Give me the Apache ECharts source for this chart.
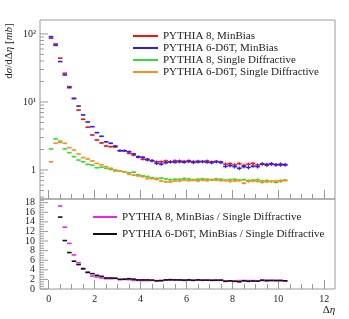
<!DOCTYPE html>
<html><head><meta charset="utf-8">
<script src="https://cdn.jsdelivr.net/npm/echarts@6/dist/echarts.min.js"></script>
<style>html,body{margin:0;padding:0;background:#fff}#c{width:349px;height:319px}</style>
</head><body><div id="c"></div>
<script>
// ---- data ----
const binWidth = 0.2;
const binCenters = [0.1,0.3,0.5,0.7,0.9,1.1,1.3,1.5,1.7,1.9,2.1,2.3,2.5,2.7,2.9,3.1,3.3,3.5,3.7,3.9,4.1,4.3,4.5,4.7,4.9,5.1,5.3,5.5,5.7,5.9,6.1,6.3,6.5,6.7,6.9,7.1,7.3,7.5,7.7,7.9,8.1,8.3,8.5,8.7,8.9,9.1,9.3,9.5,9.7,9.9,10.1,10.3];
const mbPythia8 = [86.5,71,44,26.4,16.8,11.3,7.6,5.57,4.25,3.27,2.76,2.5,2.25,2.2,2.18,1.93,1.92,1.76,1.66,1.54,1.44,1.40,1.37,1.32,1.32,1.36,1.32,1.37,1.36,1.34,1.37,1.33,1.35,1.33,1.36,1.32,1.34,1.31,1.22,1.24,1.19,1.24,1.17,1.22,1.25,1.19,1.22,1.17,1.21,1.19,1.18,1.20];
const mbPythia6 = [91,68,39.2,24.9,16.2,11.2,8.7,6.44,5.08,4.33,3.54,3.13,2.6,2.47,2.25,1.92,1.92,1.86,1.72,1.57,1.54,1.44,1.37,1.25,1.22,1.28,1.32,1.30,1.32,1.30,1.33,1.29,1.31,1.33,1.30,1.28,1.32,1.29,1.13,1.16,1.12,1.06,1.12,1.09,1.14,1.12,1.23,1.21,1.24,1.20,1.22,1.19];
const sdPythia8 = [2.04,2.86,2.55,2.04,1.80,1.57,1.40,1.32,1.21,1.18,1.08,1.10,1.06,1.02,0.97,0.97,0.94,0.91,0.93,0.85,0.82,0.80,0.77,0.75,0.76,0.74,0.72,0.73,0.73,0.75,0.74,0.72,0.73,0.74,0.73,0.72,0.74,0.73,0.71,0.72,0.73,0.71,0.72,0.70,0.71,0.72,0.69,0.70,0.68,0.66,0.70,0.71];
const sdPythia6 = [1.32,2.47,2.67,2.47,2.13,1.97,1.72,1.52,1.45,1.36,1.25,1.19,1.12,1.06,1.00,0.97,0.94,0.87,0.84,0.82,0.80,0.75,0.75,0.73,0.69,0.67,0.67,0.69,0.69,0.71,0.70,0.71,0.69,0.71,0.70,0.72,0.71,0.70,0.70,0.68,0.69,0.70,0.64,0.68,0.69,0.68,0.66,0.67,0.68,0.69,0.68,0.70];
const errMinBias = [0.9,0.8,0.5,0.3,0.2,0.15,0.12,0.1,0.08,0.07,0.07,0.07,0.07,0.07,0.07,0.07,0.07,0.07,0.07,0.07,0.07,0.07,0.07,0.07,0.07,0.07,0.07,0.07,0.07,0.07,0.07,0.07,0.07,0.07,0.07,0.07,0.07,0.07,0.07,0.07,0.07,0.07,0.07,0.07,0.07,0.07,0.07,0.07,0.07,0.07,0.07,0.07];
const errSingleDiff = [0.03,0.03,0.03,0.03,0.03,0.03,0.03,0.03,0.03,0.03,0.03,0.03,0.03,0.03,0.03,0.03,0.03,0.03,0.03,0.03,0.03,0.03,0.03,0.03,0.03,0.03,0.03,0.03,0.03,0.03,0.03,0.03,0.03,0.03,0.03,0.03,0.03,0.03,0.03,0.03,0.03,0.03,0.03,0.03,0.03,0.03,0.03,0.03,0.03,0.03,0.03,0.03];
const ratioPythia8 = [null,null,17.3,12.9,9.5,7.1,5.5,4.3,3.4,2.7,2.5,2.3,2.15,2.15,2.2,2.0,2.0,1.95,1.8,1.8,1.75,1.75,1.8,1.75,1.75,1.85,1.85,1.9,1.85,1.8,1.85,1.85,1.85,1.8,1.85,1.85,1.8,1.8,1.7,1.7,1.65,1.75,1.65,1.75,1.75,1.65,1.75,1.65,1.75,1.8,1.7,1.7];
const ratioPythia6 = [null,null,15.0,10.1,7.6,5.8,5.1,4.2,3.5,3.2,2.85,2.65,2.3,2.3,2.25,2.0,2.05,2.15,2.05,1.9,1.9,1.9,1.85,1.7,1.75,1.9,1.95,1.9,1.9,1.85,1.9,1.8,1.9,1.85,1.85,1.8,1.85,1.85,1.6,1.7,1.6,1.5,1.75,1.6,1.65,1.65,1.85,1.8,1.8,1.75,1.8,1.7];
const xMajorTicks = [0,2,4,6,8,10,12];
const xMinorTicks = [0.5,1,1.5,2.5,3,3.5,4.5,5,5.5,6.5,7,7.5,8.5,9,9.5,10.5,11,11.5,12.5];
const logMajorTicks = [1,10,100];
const logMajorLabels = ['1','10¹','10²'];
const logMinorTicks = [0.4,0.5,0.6,0.7,0.8,0.9,2,3,4,5,6,7,8,9,20,30,40,50,60,70,80,90];
const ratioMajorTicks = [0,2,4,6,8,10,12,14,16,18];
const ratioMajorLabels = ['0','2','4','6','8','10','12','14','16','18'];
const ratioMinorTicks = [0.5,1,1.5,2.5,3,3.5,4.5,5,5.5,6.5,7,7.5,8.5,9,9.5,10.5,11,11.5,12.5,13,13.5,14.5,15,15.5,16.5,17,17.5,18.5];
const seriesNames = ['PYTHIA 8, MinBias','PYTHIA 6-D6T, MinBias','PYTHIA 8, Single Diffractive','PYTHIA 6-D6T, Single Diffractive'];
const ratioNames = ['PYTHIA 8, MinBias / Single Diffractive','PYTHIA 6-D6T, MinBias / Single Diffractive'];

// ---- chart ----
const FONT = 'Liberation Serif';
const AX = '#9a9a9a';
const TXT = '#222';
function rows(vals, errs){ return binCenters.map((x,i)=>[x, vals[i]==null?NaN:vals[i], errs?errs[i]:0]); }
function errRender(color){
  return function(params, api){
    const x = api.value(0), y = api.value(1), e = api.value(2);
    if (isNaN(y)) return null;
    const pL = api.coord([x - binWidth/2, y]);
    const pR = api.coord([x + binWidth/2, y]);
    const children = [{type:'line', shape:{x1:pL[0],y1:pL[1],x2:pR[0],y2:pR[1]}, style:{stroke:color,lineWidth:1.6}}];
    if (e > 0) {
      const pT = api.coord([x, y + e]);
      const pB = api.coord([x, Math.max(y - e, 1e-6)]);
      children.push({type:'line', shape:{x1:pT[0],y1:pT[1],x2:pB[0],y2:pB[1]}, style:{stroke:color,lineWidth:1}});
    }
    return {type:'group', children};
  };
}
function dataSeries(name, vals, errs, color, xi, yi){
  return {type:'custom', name, xAxisIndex:xi, yAxisIndex:yi, clip:true,
    itemStyle:{color}, renderItem: errRender(color), data: rows(vals, errs), encode:{x:0,y:1}, z:5};
}
const colors = ['#ff1010','#2020ff','#33dd33','#ff8c1a'];
const ratioColors = ['#ee22ee','#111111'];

function xAxisDef(grid, ticks, len, labels){
  return {type:'value', gridIndex:grid, min:-0.38, max:12.47, position:'bottom',
    axisLine:{show:false}, splitLine:{show:false},
    axisTick:{show:true, inside:true, length:len, customValues:ticks, lineStyle:{color:AX}},
    axisLabel: labels ? {show:true, customValues:xMajorTicks, margin:5, showMinLabel:true, showMaxLabel:true, hideOverlap:false,
      fontFamily:FONT, fontSize:10, color:TXT} : {show:false}};
}

// y ticks and labels drawn through the y axis' own coordinate mapping
function yTickSeries(xi, yi, values, len, labels, margin){
  return {type:'custom', xAxisIndex:xi, yAxisIndex:yi, silent:true, clip:false, z:6,
    data: values.map((v,i)=>[0, v, i]), encode:{x:0,y:1},
    renderItem:function(params, api){
      const y = api.coord([0, api.value(1)])[1];
      const x0 = params.coordSys.x;
      const children = [{type:'line', shape:{x1:x0, y1:y, x2:x0+len, y2:y}, style:{stroke:AX, lineWidth:1}}];
      if (labels) {
        children.push({type:'text', x:x0-margin, y:y,
          style:{text:labels[api.value(2)], fontFamily:FONT, fontSize:10, fill:TXT, align:'right', verticalAlign:'middle'}});
      }
      return {type:'group', children};
    }};
}

const option = {
  animation:false,
  backgroundColor:'#fff',
  grid:[
    {left:40, right:14, top:20, height:179, show:true, borderColor:AX, borderWidth:1},
    {left:40, right:14, top:199, height:90, show:true, borderColor:AX, borderWidth:1}
  ],
  xAxis:[
    xAxisDef(0, xMajorTicks, 9, false),
    xAxisDef(0, xMinorTicks, 5, false),
    xAxisDef(1, xMajorTicks, 9, true),
    xAxisDef(1, xMinorTicks, 5, false)
  ],
  yAxis:[
    {type:'log', logBase:10, gridIndex:0, min:0.375, max:160, position:'left',
      axisLine:{show:false}, splitLine:{show:false}, axisTick:{show:false}, axisLabel:{show:false}},
    {type:'value', gridIndex:1, min:0, max:18.77, position:'left',
      axisLine:{show:false}, splitLine:{show:false}, axisTick:{show:false}, axisLabel:{show:false}}
  ],
  legend:[
    {data:seriesNames, orient:'vertical', left:128, top:25, itemGap:0, itemWidth:25, itemHeight:2, icon:'rect',
      selectedMode:false, textStyle:{fontFamily:FONT, fontSize:11, lineHeight:12, color:TXT}},
    {data:ratioNames, orient:'vertical', left:88, top:206, itemGap:5, itemWidth:24, itemHeight:2, icon:'rect',
      selectedMode:false, textStyle:{fontFamily:FONT, fontSize:11, lineHeight:12, color:TXT}}
  ],
  graphic:[
    {type:'text', x:9, y:51, rotation:Math.PI/2,
      style:{text:'d{i|σ}/dΔ{i|η} [{i|mb}]', fontFamily:FONT, fontSize:11, fill:TXT, align:'center', verticalAlign:'middle',
        rich:{i:{fontFamily:FONT, fontSize:11, fontStyle:'italic', color:TXT}}}},
    {type:'text', x:329, y:310,
      style:{text:'Δ{i|η}', fontFamily:FONT, fontSize:11, fill:TXT, align:'center', verticalAlign:'middle',
        rich:{i:{fontFamily:FONT, fontSize:11, fontStyle:'italic', color:TXT}}}}
  ],
  series:[
    dataSeries(seriesNames[0], mbPythia8, errMinBias, colors[0], 0, 0),
    dataSeries(seriesNames[1], mbPythia6, errMinBias, colors[1], 0, 0),
    dataSeries(seriesNames[2], sdPythia8, errSingleDiff, colors[2], 0, 0),
    dataSeries(seriesNames[3], sdPythia6, errSingleDiff, colors[3], 0, 0),
    dataSeries(ratioNames[0], ratioPythia8, null, ratioColors[0], 2, 1),
    dataSeries(ratioNames[1], ratioPythia6, null, ratioColors[1], 2, 1),
    yTickSeries(0, 0, logMajorTicks, 8, logMajorLabels, 4),
    yTickSeries(0, 0, logMinorTicks, 4, null, 0),
    yTickSeries(2, 1, ratioMajorTicks, 8, ratioMajorLabels, 5),
    yTickSeries(2, 1, ratioMinorTicks, 4, null, 0)
  ]
};
const chart = echarts.init(document.getElementById('c'), null, {renderer:'canvas'});
chart.setOption(option);
</script>
</body></html>
